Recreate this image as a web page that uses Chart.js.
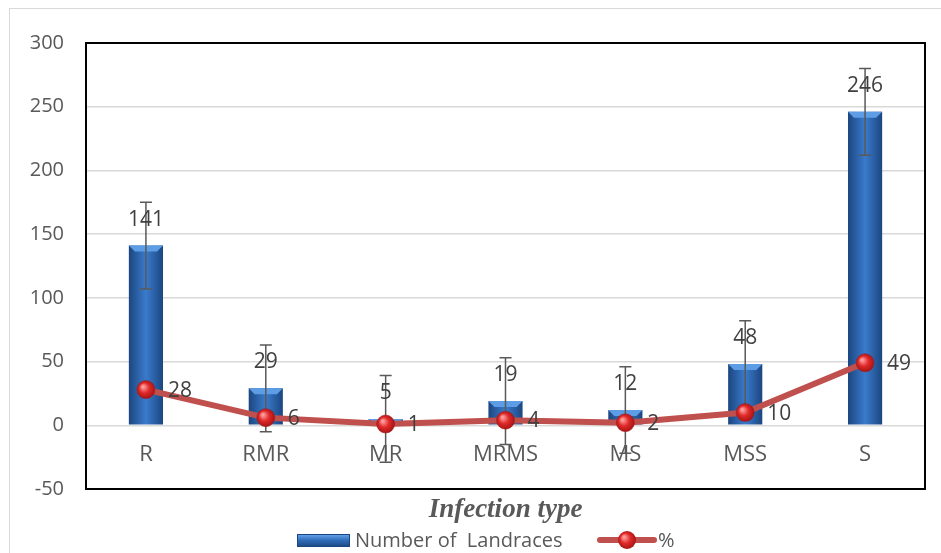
<!DOCTYPE html>
<html>
<head>
<meta charset="utf-8">
<script src="https://cdn.jsdelivr.net/npm/chart.js@4"></script>
<style>
  html, body { margin: 0; padding: 0; background: #fff; }
</style>
</head>
<body>
<canvas id="chart" width="941" height="553"></canvas>
<script>
// data
const categories = ['R', 'RMR', 'MR', 'MRMS', 'MS', 'MSS', 'S'];
const landraces = [141, 29, 5, 19, 12, 48, 246];
const landraceErrors = [34, 34, 34, 34, 34, 34, 34];
const percent = [28, 6, 1, 4, 2, 10, 49];
const yMin = -50, yMax = 300, yStep = 50;

const FONT = 'Open Sans';
const TEXT = '#595959';
const LABEL = '#404040';
const RED = '#c0504d';

function barFill(ctx) {
    const x = ctx.chart.scales.x;
    if (!x || ctx.type !== 'data') return '#2e6bb8';
    const cx = x.getPixelForValue(ctx.dataIndex);
    if (!Number.isFinite(cx)) return '#2e6bb8';
    const g = ctx.chart.ctx.createLinearGradient(cx - 17, 0, cx + 17, 0);
    g.addColorStop(0, '#1c4680');
    g.addColorStop(0.5, '#3a7bcc');
    g.addColorStop(1, '#1c4680');
    return g;
}

function redBall(c, px, py) {
    const g = c.createRadialGradient(px - 3, py - 3, 1, px, py, 10);
    g.addColorStop(0, '#ff9a9a');
    g.addColorStop(0.45, '#e02a2a');
    g.addColorStop(1, '#a01010');
    return g;
}

function pointFill(ctx) {
    const { x, y } = ctx.chart.scales;
    if (!x || !y || ctx.type !== 'data') return '#d03030';
    const px = x.getPixelForValue(ctx.dataIndex);
    const py = y.getPixelForValue(percent[ctx.dataIndex]);
    if (!Number.isFinite(px) || !Number.isFinite(py)) return '#d03030';
    return redBall(ctx.chart.ctx, px, py);
}

const framePlugin = {
    id: 'frame',
    beforeDraw(chart) {
        const c = chart.ctx;
        c.save();
        c.fillStyle = '#fff';
        c.fillRect(0, 0, chart.width, chart.height);
        c.strokeStyle = '#d9d9d9';
        c.lineWidth = 1;
        c.strokeRect(9.5, 8.5, 945, 560);
        c.restore();
    },
    beforeDatasetsDraw(chart) {
        const a = chart.chartArea, c = chart.ctx;
        c.save();
        c.strokeStyle = '#000';
        c.lineWidth = 2;
        c.strokeRect(a.left, a.top, a.right - a.left, a.bottom - a.top);
        c.restore();
    }
};

const errorBarPlugin = {
    id: 'errorBars',
    afterDatasetDraw(chart, args) {
        if (args.index !== 0) return;
        const c = chart.ctx, y = chart.scales.y;
        c.save();
        // bevel on top of each bar
        args.meta.data.forEach(bar => {
            const l = bar.x - bar.width / 2, r = bar.x + bar.width / 2;
            c.fillStyle = '#5d9de6';
            c.beginPath();
            c.moveTo(l, bar.y); c.lineTo(r, bar.y);
            c.lineTo(r - 6, bar.y + 6); c.lineTo(l + 6, bar.y + 6);
            c.closePath(); c.fill();
        });
        c.strokeStyle = '#595959';
        c.lineWidth = 1.5;
        args.meta.data.forEach((bar, i) => {
            const top = y.getPixelForValue(landraces[i] + landraceErrors[i]);
            const bot = y.getPixelForValue(landraces[i] - landraceErrors[i]);
            c.beginPath();
            c.moveTo(bar.x, top); c.lineTo(bar.x, bot);
            c.moveTo(bar.x - 6, top); c.lineTo(bar.x + 6, top);
            c.moveTo(bar.x - 6, bot); c.lineTo(bar.x + 6, bot);
            c.stroke();
        });
        c.restore();
    }
};

const labelPlugin = {
    id: 'valueLabels',
    afterDatasetsDraw(chart) {
        const c = chart.ctx;
        c.save();
        c.font = '21px "' + FONT + '"';
        c.fillStyle = LABEL;
        c.textBaseline = 'middle';
        c.textAlign = 'center';
        chart.getDatasetMeta(0).data.forEach((bar, i) => {
            c.fillText(String(landraces[i]), bar.x, bar.y - 26);
        });
        c.textAlign = 'left';
        chart.getDatasetMeta(1).data.forEach((pt, i) => {
            c.fillText(String(percent[i]), pt.x + 22, pt.y + 1);
        });
        c.restore();
    }
};

const legendPlugin = {
    id: 'customLegend',
    afterDraw(chart) {
        const c = chart.ctx;
        c.save();
        const g = c.createLinearGradient(0, 534, 0, 547);
        g.addColorStop(0, '#6aa8ee');
        g.addColorStop(0.5, '#2f6cb8');
        g.addColorStop(1, '#1c4680');
        c.fillStyle = g;
        c.fillRect(297, 534, 53, 13);
        c.strokeStyle = '#1c4680';
        c.lineWidth = 1;
        c.strokeRect(297.5, 534.5, 52, 12);
        c.font = '20px "' + FONT + '"';
        c.fillStyle = TEXT;
        c.textBaseline = 'middle';
        c.textAlign = 'left';
        c.fillText('Number of  Landraces', 355, 541);
        c.strokeStyle = RED;
        c.lineWidth = 6;
        c.lineCap = 'round';
        c.beginPath(); c.moveTo(600, 540); c.lineTo(654, 540); c.stroke();
        c.fillStyle = redBall(c, 627, 540);
        c.beginPath(); c.arc(627, 540, 9, 0, Math.PI * 2); c.fill();
        c.fillStyle = TEXT;
        c.fillText('%', 658, 541);
        c.restore();
    }
};

new Chart(document.getElementById('chart'), {
    type: 'bar',
    data: {
        labels: categories,
        datasets: [
            {
                type: 'bar',
                label: 'Number of  Landraces',
                data: landraces,
                backgroundColor: barFill,
                borderWidth: 0,
                categoryPercentage: 1,
                barPercentage: 0.285,
                order: 1
            },
            {
                type: 'line',
                label: '%',
                data: percent,
                borderColor: RED,
                borderWidth: 6,
                tension: 0,
                pointRadius: 9,
                pointBackgroundColor: pointFill,
                pointBorderColor: '#9c1a1a',
                pointBorderWidth: 0.5,
                order: 0
            }
        ]
    },
    options: {
        responsive: false,
        animation: false,
        layout: { padding: { left: 0, top: 43, right: 16, bottom: 0 } },
        plugins: {
            legend: { display: false },
            tooltip: { enabled: false }
        },
        scales: {
            x: {
                position: { y: 0 },
                offset: true,
                grid: { display: false, drawTicks: false },
                border: { display: false },
                ticks: { color: TEXT, font: { family: FONT, size: 22 }, padding: 16 }
            },
            xTitle: {
                type: 'category',
                labels: categories,
                position: 'bottom',
                offset: true,
                grid: { display: false, drawTicks: false },
                border: { display: false },
                ticks: { display: false },
                title: {
                    display: true,
                    text: 'Infection type',
                    color: TEXT,
                    font: { family: 'Liberation Serif', size: 27, style: 'italic', weight: 'bold' },
                    padding: { top: 0, bottom: 27 }
                },
                afterFit: s => { s.height = 64; }
            },
            y: {
                min: yMin,
                max: yMax,
                ticks: { stepSize: yStep, color: TEXT, font: { family: FONT, size: 20 }, padding: 22 },
                grid: { color: '#d9d9d9', drawTicks: false, lineWidth: 1.5 },
                border: { display: false },
                afterFit: s => { s.width = 86; }
            }
        }
    },
    plugins: [framePlugin, errorBarPlugin, labelPlugin, legendPlugin]
});
</script>
</body>
</html>
